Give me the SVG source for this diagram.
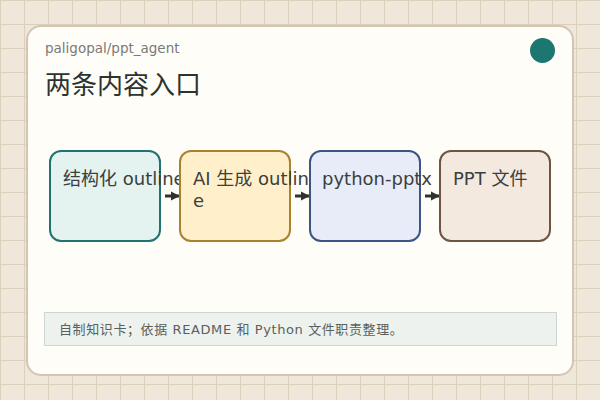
<svg xmlns="http://www.w3.org/2000/svg" width="600" height="400" viewBox="0 0 600 400">
<defs>
<pattern id="grid" width="24" height="24" patternUnits="userSpaceOnUse">
<rect width="24" height="24" fill="#efe7d9"/>
<path d="M0 0.5H24M0.5 0V24" stroke="#dccfbc" stroke-width="1" fill="none"/>
</pattern>
<marker id="arr" viewBox="0 0 10 10" refX="9" refY="5" markerWidth="3" markerHeight="3.4" markerUnits="strokeWidth" orient="auto">
<path d="M0 0L10 5L0 10Z" fill="#2f3330"/>
</marker>
<style>
.node rect{stroke-width:2}
.lbl{font-family:"DejaVu Sans","Noto Sans CJK SC",sans-serif;font-size:18px;fill:#3a403e}
.conn line{stroke:#2f3330;stroke-width:3;marker-end:url(#arr)}
</style>
</defs>
<rect width="600" height="400" fill="url(#grid)"/>
<rect x="27" y="26" width="546" height="349" rx="14" fill="#fffdf8" stroke="#d3c5b2" stroke-width="2"/>
<circle cx="542.5" cy="50.5" r="12.5" fill="#1b776f"/>
<text x="45" y="53" font-family="'DejaVu Sans','Noto Sans',sans-serif" font-size="13.5" fill="#7a7a78">paligopal/ppt_agent</text>
<text x="45" y="94" font-family="'Noto Sans CJK SC',sans-serif" font-size="26" fill="#2d3331">两条内容入口</text>
<g class="conn">
<line x1="165" y1="196" x2="179" y2="196"/>
<line x1="295" y1="196" x2="309" y2="196"/>
<line x1="425" y1="196" x2="439" y2="196"/>
</g>
<g id="n1" class="node">
<rect x="50" y="151" width="110" height="90" rx="11" fill="#e4f3f0" stroke="#20736e"/>
<text class="lbl" x="63" y="185">结构化 outline</text>
</g>
<g id="n2" class="node">
<rect x="180" y="151" width="110" height="90" rx="11" fill="#fff0cb" stroke="#a8822f"/>
<text class="lbl" x="193" y="185">AI 生成 outlin</text>
<text class="lbl" x="193" y="207">e</text>
</g>
<g id="n3" class="node">
<rect x="310" y="151" width="110" height="90" rx="11" fill="#e8ecf9" stroke="#3e5485"/>
<text class="lbl" x="322" y="185">python-pptx</text>
</g>
<g id="n4" class="node">
<rect x="440" y="151" width="110" height="90" rx="11" fill="#f3e9de" stroke="#6e5541"/>
<text class="lbl" x="453" y="185">PPT 文件</text>
</g>
<rect x="44.5" y="312.5" width="512" height="33" fill="#edf2ee" stroke="#cfd6d1" stroke-width="1"/>
<text x="59" y="334" font-family="'DejaVu Sans','Noto Sans CJK SC',sans-serif" font-size="13" letter-spacing="0.6" fill="#5a5f5c">自制知识卡；依据 README 和 Python 文件职责整理。</text>
</svg>
